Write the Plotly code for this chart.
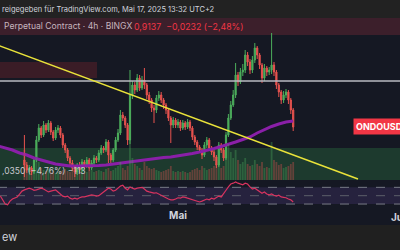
import pandas as pd
import plotly.graph_objects as go

# ---------------- data ----------------
candle_times = pd.date_range("2025-04-09 16:00", periods=113, freq="8h")

opens = [0.848, 0.838, 0.828, 0.832, 0.824, 0.848, 0.888, 0.912, 0.898, 0.918,
         0.908, 0.922, 0.904, 0.892, 0.908, 0.912, 0.898, 0.878, 0.868, 0.852,
         0.842, 0.832, 0.824, 0.838, 0.828, 0.844, 0.836, 0.848, 0.832, 0.842,
         0.852, 0.848, 0.862, 0.872, 0.868, 0.884, 0.858, 0.848, 0.868, 0.888,
         0.902, 0.938, 0.932, 0.918, 0.888, 0.978, 0.998, 0.988, 1.012, 0.992,
         1.008, 0.998, 0.978, 0.968, 0.952, 0.948, 0.972, 0.978, 0.968, 0.958,
         0.948, 0.932, 0.918, 0.928, 0.918, 0.924, 0.912, 0.922, 0.914, 0.924,
         0.912, 0.894, 0.884, 0.874, 0.868, 0.858, 0.878, 0.888, 0.872, 0.864,
         0.854, 0.838, 0.878, 0.868, 0.852, 0.898, 0.932, 0.958, 0.978, 1.018,
         1.004, 1.024, 1.028, 1.058, 1.044, 1.028, 1.048, 1.072, 1.058, 1.038,
         1.012, 1.032, 1.024, 1.028, 1.038, 1.024, 0.998, 0.984, 0.968, 0.978,
         0.984, 0.968, 0.948]
closes = [0.838, 0.828, 0.832, 0.824, 0.848, 0.888, 0.912, 0.898, 0.918, 0.908,
          0.922, 0.904, 0.892, 0.908, 0.912, 0.898, 0.878, 0.868, 0.852, 0.842,
          0.832, 0.824, 0.838, 0.828, 0.844, 0.836, 0.848, 0.832, 0.842, 0.852,
          0.848, 0.862, 0.872, 0.868, 0.884, 0.858, 0.848, 0.868, 0.888, 0.902,
          0.938, 0.932, 0.918, 0.888, 0.978, 0.998, 0.988, 1.012, 0.992, 1.008,
          0.998, 0.978, 0.968, 0.952, 0.948, 0.972, 0.978, 0.968, 0.958, 0.948,
          0.932, 0.918, 0.928, 0.918, 0.924, 0.912, 0.922, 0.914, 0.924, 0.912,
          0.894, 0.884, 0.874, 0.868, 0.858, 0.878, 0.888, 0.872, 0.864, 0.854,
          0.838, 0.878, 0.868, 0.852, 0.898, 0.932, 0.958, 0.978, 1.018, 1.004,
          1.024, 1.028, 1.058, 1.044, 1.028, 1.048, 1.072, 1.058, 1.038, 1.012,
          1.032, 1.024, 1.028, 1.038, 1.024, 0.998, 0.984, 0.968, 0.978, 0.984,
          0.968, 0.948, 0.914]
highs = [0.898, 0.844, 0.838, 0.836, 0.852, 0.896, 0.920, 0.916, 0.926, 0.922,
         0.928, 0.926, 0.908, 0.914, 0.918, 0.916, 0.902, 0.882, 0.872, 0.856,
         0.848, 0.836, 0.842, 0.844, 0.850, 0.848, 0.854, 0.852, 0.848, 0.858,
         0.856, 0.868, 0.878, 0.876, 0.890, 0.888, 0.862, 0.872, 0.894, 0.910,
         0.948, 0.944, 0.936, 0.922, 1.028, 1.006, 1.004, 1.020, 1.018, 1.016,
         1.032, 1.002, 0.984, 0.972, 0.958, 0.978, 0.986, 0.984, 0.972, 0.962,
         0.952, 0.936, 0.934, 0.932, 0.930, 0.928, 0.928, 0.926, 0.930, 0.928,
         0.916, 0.898, 0.888, 0.878, 0.872, 0.884, 0.894, 0.892, 0.876, 0.868,
         0.858, 0.884, 0.882, 0.872, 0.904, 0.940, 0.966, 0.988, 1.042, 1.024,
         1.032, 1.040, 1.068, 1.064, 1.050, 1.056, 1.082, 1.076, 1.062, 1.042,
         1.040, 1.036, 1.034, 1.102, 1.044, 1.028, 1.002, 0.988, 0.986, 0.990,
         0.988, 0.972, 0.952]
lows = [0.814, 0.822, 0.824, 0.818, 0.820, 0.844, 0.884, 0.892, 0.894, 0.902,
        0.904, 0.898, 0.886, 0.888, 0.902, 0.892, 0.872, 0.862, 0.846, 0.836,
        0.826, 0.814, 0.818, 0.822, 0.824, 0.830, 0.832, 0.826, 0.828, 0.838,
        0.842, 0.844, 0.858, 0.862, 0.864, 0.842, 0.842, 0.844, 0.864, 0.884,
        0.898, 0.926, 0.912, 0.878, 0.880, 0.970, 0.980, 0.984, 0.986, 0.988,
        0.990, 0.970, 0.960, 0.944, 0.922, 0.942, 0.966, 0.962, 0.950, 0.940,
        0.926, 0.882, 0.912, 0.912, 0.912, 0.906, 0.908, 0.908, 0.910, 0.906,
        0.888, 0.878, 0.868, 0.862, 0.850, 0.854, 0.872, 0.866, 0.858, 0.846,
        0.832, 0.834, 0.862, 0.846, 0.848, 0.894, 0.928, 0.954, 0.972, 0.996,
        1.000, 1.016, 1.022, 1.036, 1.020, 1.022, 1.042, 1.050, 1.030, 1.002,
        1.006, 1.016, 1.018, 1.020, 1.016, 0.990, 0.974, 0.960, 0.962, 0.972,
        0.960, 0.940, 0.906]
volumes = [30, 14, 10, 12, 9, 22, 18, 12, 10, 9, 11,
           8, 9, 7, 8, 9, 10, 11, 9, 8, 12,
           14, 10, 8, 9, 7, 8, 9, 10, 8, 9,
           10, 9, 8, 11, 12, 9, 10, 12, 14, 18,
           12, 10, 14, 40, 22, 16, 14, 12, 10, 18,
           14, 12, 11, 12, 10, 9, 8, 9, 10, 11,
           14, 9, 8, 9, 8, 9, 8, 7, 8, 10,
           11, 12, 10, 14, 12, 10, 11, 12, 14, 16,
           18, 12, 14, 30, 36, 28, 22, 30, 20, 16,
           18, 22, 16, 14, 15, 20, 16, 14, 18, 12,
           13, 12, 38, 20, 18, 15, 16, 12, 13, 14, 16, 18]

ma_times = pd.date_range("2025-04-06", periods=42, freq="D")
ma_values = [0.876, 0.872, 0.868, 0.862, 0.858, 0.852, 0.848, 0.844, 0.840, 0.838,
             0.836, 0.836, 0.836, 0.836, 0.837, 0.838, 0.840, 0.841, 0.843, 0.846,
             0.848, 0.850, 0.852, 0.853, 0.854, 0.856, 0.858, 0.861, 0.864, 0.867,
             0.871, 0.875, 0.879, 0.884, 0.889, 0.894, 0.902, 0.909, 0.915, 0.920,
             0.924, 0.926]

rsi_times = pd.date_range("2025-04-06 08:00", periods=123, freq="8h")
rsi_values = [49, 40, 30, 28, 37, 42, 44, 47, 54, 61,
              64, 66, 68, 66, 63, 64, 66, 68, 66, 63,
              59, 61, 63, 64, 59, 54, 49, 47, 49, 44,
              42, 44, 42, 45, 47, 47, 49, 50, 52, 51,
              49, 50, 54, 59, 64, 68, 66, 61, 63, 68,
              73, 75, 68, 64, 71, 68, 66, 68, 69, 70,
              66, 61, 59, 58, 56, 57, 54, 49, 47, 45,
              42, 40, 40, 42, 45, 44, 47, 46, 44, 42,
              40, 38, 37, 35, 37, 40, 42, 40, 44, 42,
              45, 49, 47, 54, 63, 71, 78, 80, 83, 80,
              78, 76, 80, 78, 71, 66, 68, 64, 61, 56,
              59, 54, 52, 54, 51, 49, 51, 47, 46, 45,
              42, 40, 35]

x_range = ["2025-04-06 06:40", "2025-05-31 20:00"]
month_ticks = ["2025-05-01"]
month_labels = ["Mai"]

red_zone = dict(x_end="2025-04-19 18:00", low=1.012, high=1.044)
support_zone = dict(low=0.790, high=0.872)
resistance_line = 1.006
trend_start = ("2025-04-05 00:00", 1.0828)
trend_end = ("2025-05-26 00:00", 0.810)
last_price = 0.914

# ---------------- figure ----------------
FONT = "Inter"
UP, DOWN = "#4cae5c", "#e8534f"
vol_colors = ["rgba(76,174,92,0.35)" if c >= o else "rgba(232,83,79,0.35)"
              for o, c in zip(opens, closes)]

fig = go.Figure()
fig.add_trace(go.Bar(x=candle_times, y=volumes, marker=dict(color=vol_colors, line=dict(width=0)),
                     xaxis="x", yaxis="y3", hoverinfo="skip"))
fig.add_trace(go.Scatter(x=ma_times, y=ma_values, mode="lines",
                         line=dict(color="#8a1fa8", width=3), xaxis="x", yaxis="y"))
fig.add_trace(go.Candlestick(x=candle_times, open=opens, high=highs, low=lows, close=closes,
                             increasing=dict(line=dict(color=UP, width=1), fillcolor=UP),
                             decreasing=dict(line=dict(color=DOWN, width=1), fillcolor=DOWN),
                             whiskerwidth=0, xaxis="x", yaxis="y"))
fig.add_trace(go.Scatter(x=rsi_times, y=rsi_values, mode="lines",
                         line=dict(color="#d8335f", width=1.2), xaxis="x2", yaxis="y2"))

shapes = [
    # top header bar
    dict(type="rect", xref="paper", yref="paper", x0=0, x1=1, y0=0.928, y1=1,
         fillcolor="#222222", line_width=0, layer="above"),
    # legend band (red tinted)
    dict(type="rect", xref="paper", yref="paper", x0=0, x1=1, y0=0.86, y1=0.928,
         fillcolor="#3c1f2b", line_width=0, layer="below"),
    # red zone
    dict(type="rect", xref="x", yref="y", x0="2025-04-01", x1=red_zone["x_end"],
         y0=red_zone["low"], y1=red_zone["high"], fillcolor="#3a1c26", line_width=0, layer="below"),
    # green support zone
    dict(type="rect", xref="x", yref="y", x0="2025-04-01", x1="2025-06-05",
         y0=support_zone["low"], y1=support_zone["high"], fillcolor="#1d3a2e", line_width=0, layer="below"),
    # horizontal resistance line
    dict(type="line", xref="x", yref="y", x0="2025-04-01", x1="2025-06-05",
         y0=resistance_line, y1=resistance_line, line=dict(color="#b8bac2", width=1.5), layer="above"),
    # yellow trend line
    dict(type="line", xref="x", yref="y", x0=trend_start[0], y0=trend_start[1],
         x1=trend_end[0], y1=trend_end[1], line=dict(color="#e9e23a", width=1.6), layer="above"),
    # RSI band + levels
    dict(type="rect", xref="x2", yref="y2", x0="2025-04-01", x1="2025-06-05", y0=30, y1=70,
         fillcolor="rgba(126,87,194,0.17)", line_width=0, layer="below"),
    dict(type="line", xref="x2", yref="y2", x0="2025-04-01", x1="2025-06-05", y0=70, y1=70,
         line=dict(color="#787b86", width=1, dash="dash"), layer="below"),
    dict(type="line", xref="x2", yref="y2", x0="2025-04-01", x1="2025-06-05", y0=50, y1=50,
         line=dict(color="#5d5f6b", width=1, dash="dash"), layer="below"),
    dict(type="line", xref="x2", yref="y2", x0="2025-04-01", x1="2025-06-05", y0=30, y1=30,
         line=dict(color="#787b86", width=1, dash="dash"), layer="below"),
    # bottom footer bar
    dict(type="rect", xref="paper", yref="paper", x0=0, x1=1, y0=0, y1=0.1,
         fillcolor="#202020", line_width=0, layer="above"),
]

annotations = [
    dict(text="reigegeben für TradingView.com, Mai 17, 2025 13:32 UTC+2", xref="paper", yref="paper",
         x=0, y=0.964, xanchor="left", yanchor="middle", showarrow=False,
         font=dict(family=FONT, size=7.5, color="#d1d4dc")),
    dict(text="Perpetual Contract · 4h · BINGX", xref="paper", yref="paper",
         x=0.005, y=0.894, xanchor="left", yanchor="middle", showarrow=False,
         font=dict(family=FONT, size=8.6, color="#c7b6bf")),
    dict(text="0,9137  −0,0232 (−2,48%)", xref="paper", yref="paper",
         x=0.33, y=0.894, xanchor="left", yanchor="middle", showarrow=False,
         font=dict(family=FONT, size=8.8, color="#f23645")),
    dict(text=",0350 (−4,76%) −113", xref="paper", yref="paper",
         x=0, y=0.316, xanchor="left", yanchor="middle", showarrow=False,
         font=dict(family=FONT, size=8.5, color="#c8c9cf")),
    dict(text="<b>ONDOUSDT</b>", xref="paper", yref="y", x=0.8825, y=last_price,
         xanchor="left", yanchor="middle", showarrow=False, bgcolor="#f23645",
         borderpad=2, font=dict(family=FONT, size=9, color="#ffffff")),
    dict(text="<b>Juni</b>", xref="paper", yref="paper", x=1.003, y=0.132,
         xanchor="center", yanchor="middle", showarrow=False,
         font=dict(family=FONT, size=10, color="#d1d4dc")),
    dict(text="ew", xref="paper", yref="paper", x=0, y=0.052,
         xanchor="left", yanchor="middle", showarrow=False,
         font=dict(family=FONT, size=11, color="#d1d4dc")),
]

fig.update_layout(
    width=400, height=250, margin=dict(l=0, r=0, t=0, b=0),
    paper_bgcolor="#151823", plot_bgcolor="rgba(0,0,0,0)",
    showlegend=False, bargap=0.25,
    xaxis=dict(domain=[0, 1], range=x_range, anchor="y", showticklabels=False,
               showgrid=False, zeroline=False, rangeslider=dict(visible=False)),
    yaxis=dict(domain=[0.28, 0.928], range=[0.808, 1.132], visible=False),
    yaxis3=dict(overlaying="y", anchor="x", range=[0, 162], visible=False),
    xaxis2=dict(domain=[0, 1], range=x_range, anchor="y2", showgrid=False, zeroline=False,
                tickmode="array", tickvals=month_ticks, ticktext=["<b>%s</b>" % t for t in month_labels],
                ticks="", tickfont=dict(family=FONT, size=10, color="#d1d4dc")),
    yaxis2=dict(domain=[0.168, 0.276], range=[20.5, 85.2], visible=False),
    shapes=shapes, annotations=annotations,
)

fig.write_html("out.html")
